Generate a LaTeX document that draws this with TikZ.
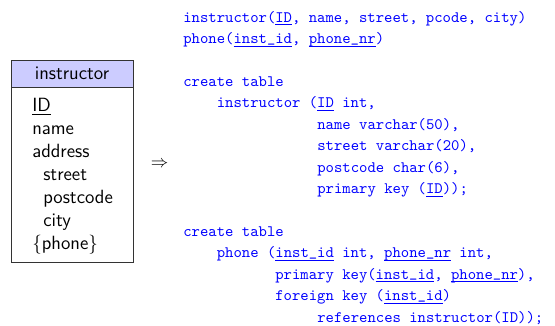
\documentclass[tikz,border=0pt]{standalone}
\usepackage{amsmath}
\usepackage{amssymb}
\usepackage{tikz}

\newcommand{\keyu}[1]{\underline{\smash{#1}}}
\newcommand{\us}{\raisebox{0.9pt}{\_}}

\tikzset{
  code/.style={anchor=base west, inner sep=0pt, text=blue, font=\ttfamily},
  attr/.style={anchor=base west, inner sep=0pt, font=\sffamily\fontsize{12}{14}\selectfont},
}

\begin{document}
\begin{tikzpicture}[x=0.6274pt, y=0.6274pt]
        \useasboundingbox (0,0) rectangle (555,325);
        % entity box
        \draw[black!80, fill=blue!20] (11,238) rectangle (133,265);
        \draw[black!80] (11,63) rectangle (133,238);
        \node[inner sep=0pt, font=\sffamily\fontsize{12}{14}\selectfont] (hdr) at (72,251.5) {instructor};
        \node[attr] (aid) at (32,213) {\keyu{ID}};
        \node[attr] (aname) at (32,190) {name};
        \node[attr] (aaddr) at (32,167) {address};
        \node[attr] (astreet) at (43,144) {street};
        \node[attr] (apcode) at (43,121) {postcode};
        \node[attr] (acity) at (43,98) {city};
        \node[attr] (aphone) at (32,75) {\{phone\}};
        % arrow
        \node[inner sep=0pt, font=\fontsize{11}{13}\selectfont] (arr) at (159.5,161) {$\Rightarrow$};
        % schema
        \node[code] (s1) at (183,302.6) {instructor(\keyu{ID}, name, street, pcode, city)};
        \node[code] (s2) at (183,281.2) {phone(\keyu{inst\us id}, \keyu{phone\us nr})};
        % first table
        \node[code] (t1) at (183,238.4) {create table};
        \node[code] (t2) at (216.5,217) {instructor (\keyu{ID} int,};
        \node[code] (t3) at (317,195.6) {name varchar(50),};
        \node[code] (t4) at (317,174.2) {street varchar(20),};
        \node[code] (t5) at (317,152.8) {postcode char(6),};
        \node[code] (t6) at (317,131.4) {primary key (\keyu{ID}));};
        % second table
        \node[code] (p1) at (183,88.6) {create table};
        \node[code] (p2) at (216.5,67.2) {phone (\keyu{inst\us id} int, \keyu{phone\us nr} int,};
        \node[code] (p3) at (275,45.8) {primary key(\keyu{inst\us id}, \keyu{phone\us nr}),};
        \node[code] (p4) at (275,24.4) {foreign key (\keyu{inst\us id})};
        \node[code] (p5) at (317,3) {references instructor(ID));};
    \end{tikzpicture}
\end{document}
